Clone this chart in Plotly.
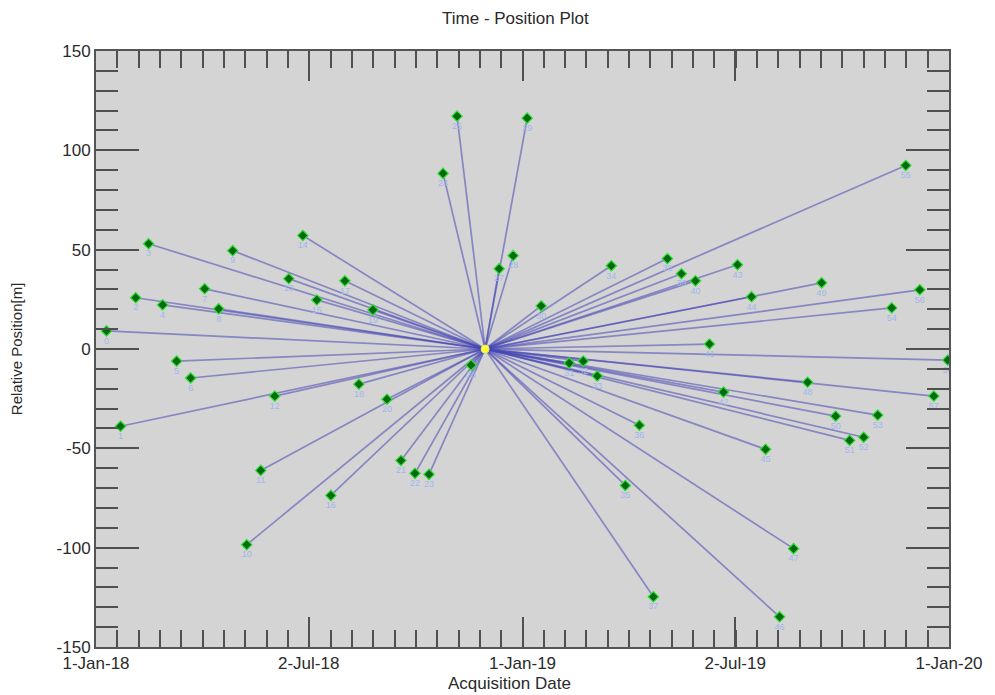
import plotly.graph_objects as go
import pandas as pd

# ---- data ----
master_date = "2018-11-30"
master_pos = 0.0

dates = [
    "2018-01-10", "2018-01-22", "2018-02-04", "2018-02-15", "2018-02-27", "2018-03-11",
    "2018-03-23", "2018-04-04", "2018-04-16", "2018-04-28", "2018-05-10", "2018-05-22",
    "2018-06-03", "2018-06-15", "2018-06-27", "2018-07-09", "2018-07-21", "2018-08-02",
    "2018-08-14", "2018-08-26", "2018-09-07", "2018-09-19", "2018-10-01", "2018-10-13",
    "2018-10-25", "2018-11-06", "2018-11-18",
    "2018-12-12", "2018-12-24", "2019-01-05", "2019-01-17", "2019-02-10", "2019-02-22",
    "2019-03-06", "2019-03-18", "2019-03-30", "2019-04-11", "2019-04-23", "2019-05-05",
    "2019-05-17", "2019-05-29", "2019-06-10", "2019-06-22", "2019-07-04", "2019-07-16",
    "2019-07-28", "2019-08-09", "2019-08-21", "2019-09-02", "2019-09-14", "2019-09-26",
    "2019-10-08", "2019-10-20", "2019-11-01", "2019-11-13", "2019-11-25", "2019-12-07",
    "2019-12-19", "2019-12-31",
]
positions = [
    9.1, -38.9, 25.8, 53.0, 22.2, -6.1,
    -14.6, 30.3, 20.2, 49.5, -98.5, -61.1,
    -23.7, 35.4, 57.1, 24.7, -73.7, 34.3,
    -17.7, 19.7, -25.3, -56.1, -62.6, -63.1,
    88.4, 117.2, -8.1,
    40.4, 47.0, 116.2, 21.7, -7.1, -6.1,
    -13.6, 41.9, -68.7, -38.4, -124.7, 45.5,
    37.9, 34.3, 2.5, -21.7, 42.4, 26.3,
    -50.5, -134.8, -100.5, -16.7, 33.3, -33.8,
    -46.0, -44.4, -33.3, 20.7, 92.4, 29.8,
    -23.7, -5.6,
]
labels = [str(i) for i in range(len(dates))]

x_tickvals = ["2018-01-01", "2018-07-02", "2019-01-01", "2019-07-02", "2020-01-01"]
x_ticktext = ["1-Jan-18", "2-Jul-18", "1-Jan-19", "2-Jul-19", "1-Jan-20"]
y_tickvals = [-150, -100, -50, 0, 50, 100, 150]
y_ticktext = ["-150", "-100", "-50", "0", "50", "100", "150"]

# ---- build figure ----
line_x, line_y = [], []
for d, p in zip(dates, positions):
    line_x += [master_date, d, None]
    line_y += [master_pos, p, None]

fig = go.Figure()
fig.add_trace(go.Scatter(
    x=line_x, y=line_y, mode="lines",
    line=dict(color="rgba(70,70,180,0.55)", width=1.7),
    hoverinfo="skip", showlegend=False,
))
fig.add_trace(go.Scatter(
    x=dates, y=positions, mode="markers+text",
    text=labels, textposition="bottom center",
    textfont=dict(family="Liberation Sans, Arial", size=9, color="#a0b6ec"),
    marker=dict(symbol="diamond", size=8, color="#006a10",
                line=dict(color="#33dd33", width=1.2)),
    showlegend=False,
))
fig.add_trace(go.Scatter(
    x=[master_date], y=[master_pos], mode="markers",
    marker=dict(symbol="circle", size=8, color="#ffff30",
                line=dict(color="#e8e860", width=1)),
    showlegend=False,
))

# minor tick positions (tenths of each half-year interval)
start = pd.Timestamp("2018-01-01")
end = pd.Timestamp("2020-01-01")
span = (end - start) / 40
minor_x = [(start + span * i).strftime("%Y-%m-%d %H:%M") for i in range(41)]

tickfont = dict(family="Liberation Sans, Arial", size=17, color="#2a2a2a")

fig.update_layout(
    width=995, height=695,
    margin=dict(l=96, r=44, t=51, b=48),
    paper_bgcolor="white", plot_bgcolor="#d4d4d4",
    title=dict(text="Time - Position Plot", x=0.518, xanchor="center",
               y=1 - 18 / 695, yanchor="middle",
               font=dict(family="Liberation Sans, Arial", size=17, color="#2a2a2a")),
    xaxis=dict(
        type="date", range=["2018-01-01", "2020-01-01"],
        tickmode="array", tickvals=x_tickvals, ticktext=x_ticktext,
        ticks="inside", ticklen=30, tickwidth=2, tickcolor="#505050",
        minor=dict(tickmode="array", tickvals=minor_x, ticks="inside",
                   ticklen=17, tickwidth=2, tickcolor="#505050", showgrid=False),
        showline=True, linecolor="#555555", linewidth=2, mirror="allticks",
        showgrid=False, zeroline=False, tickfont=tickfont,
    ),
    yaxis=dict(
        range=[-150, 150], tickmode="array", tickvals=y_tickvals, ticktext=y_ticktext,
        ticks="inside", ticklen=43, tickwidth=2, tickcolor="#505050",
        minor=dict(dtick=10, ticks="inside", ticklen=22, tickwidth=2,
                   tickcolor="#505050", showgrid=False),
        showline=True, linecolor="#555555", linewidth=2, mirror="allticks",
        showgrid=False, zeroline=False, tickfont=tickfont,
    ),
    annotations=[
        dict(text="Acquisition Date", xref="paper", yref="paper",
             x=0.485, y=-(683 - 647) / 596, xanchor="center", yanchor="middle",
             showarrow=False,
             font=dict(family="Liberation Sans, Arial", size=17, color="#2a2a2a")),
        dict(text="Relative Position[m]", xref="paper", yref="paper",
             x=(16 - 96) / 855, y=(647 - 349) / 596, xanchor="center", yanchor="middle",
             textangle=-90, showarrow=False,
             font=dict(family="Liberation Sans, Arial", size=15, color="#2a2a2a")),
    ],
)

fig.write_html("out.html", config={"displayModeBar": False},
               post_script="document.body.style.margin='0';document.body.style.overflow='hidden';")
